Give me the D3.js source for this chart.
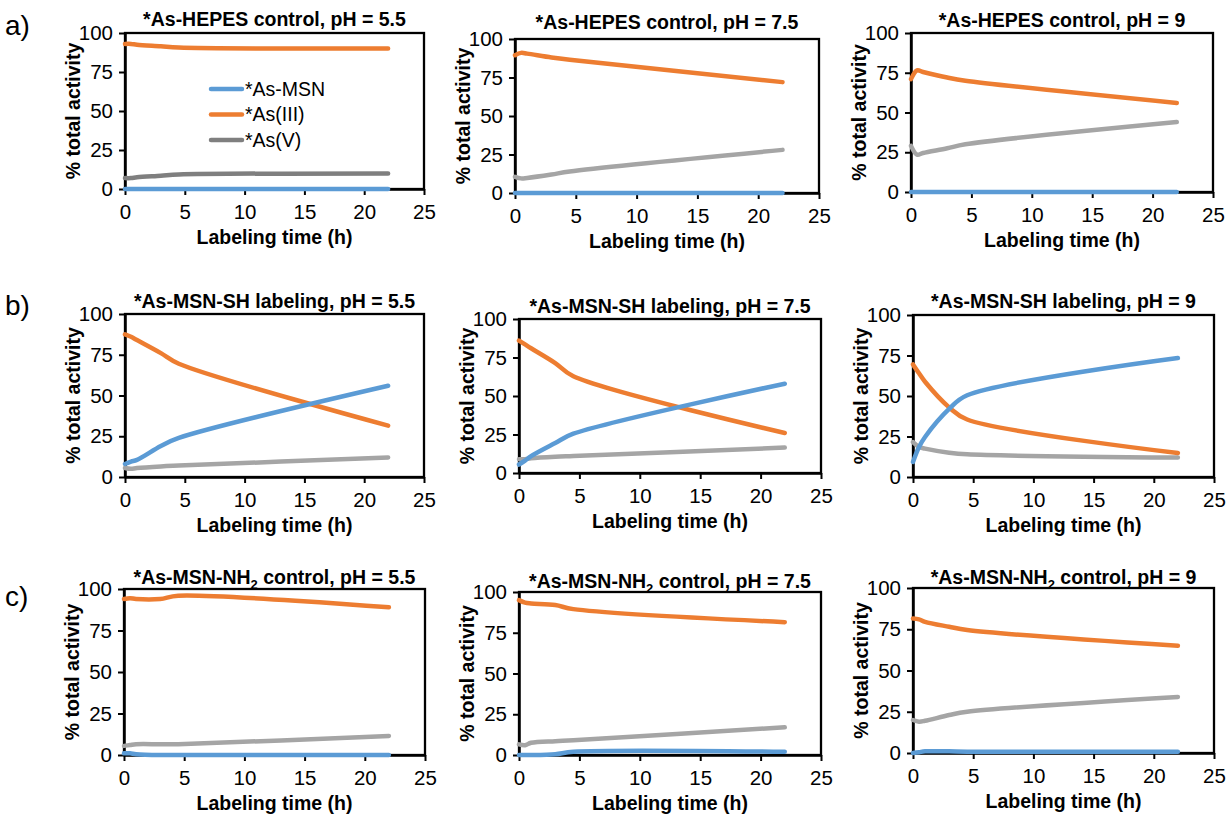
<!DOCTYPE html>
<html>
<head>
<meta charset="utf-8">
<script src="https://cdn.jsdelivr.net/npm/d3@7"></script>
<style>
  body { margin: 0; background: #fff; }
  svg text { font-family: "Liberation Sans", Arial, sans-serif; fill: #000; }
</style>
</head>
<body>
<div id="chart"></div>
<script>
const W = 1228, H = 814;

// sampling times (h)
const times = [0, 0.5, 1, 3, 4.5, 22];

const titles = [
  "*As-HEPES control, pH = 5.5", "*As-HEPES control, pH = 7.5", "*As-HEPES control, pH = 9",
  "*As-MSN-SH labeling, pH = 5.5", "*As-MSN-SH labeling, pH = 7.5", "*As-MSN-SH labeling, pH = 9",
  "*As-MSN-NH2 control, pH = 5.5", "*As-MSN-NH2 control, pH = 7.5", "*As-MSN-NH2 control, pH = 9"
];
const rowLabels = ["a)", "b)", "c)"];
const seriesNames = ["*As-MSN", "*As(III)", "*As(V)"];
const xTicks = [0, 5, 10, 15, 20, 25];
const yTicks = [0, 25, 50, 75, 100];

// % total activity, one row per panel
const asMSN = [
  [0, 0, 0, 0, 0, 0],
  [0, 0, 0, 0, 0, 0],
  [0, 0, 0, 0, 0, 0],
  [8, 9.5, 10.5, 19, 24, 56],
  [5.5, 8, 11, 19.5, 25.5, 58],
  [9.3, 18.5, 24.7, 42, 50.5, 73.5],
  [1, 1, 0.5, 0, 0, 0],
  [0, 0, 0, 0.5, 2, 2],
  [0, 0.5, 1, 1, 0.8, 0.8]
];
const asIII = [
  [93, 93, 92.5, 91.5, 90.7, 90],
  [89.5, 91, 90.5, 88, 86.5, 72],
  [71, 76.5, 75.5, 72, 70, 56],
  [87.5, 86, 84, 76, 69.5, 31.5],
  [86, 83.5, 81, 71.4, 62.8, 26],
  [69.5, 64, 58.8, 43, 35.5, 14.8],
  [94, 94.5, 94, 94, 96, 89],
  [95, 93.5, 93, 92, 89.5, 81.5],
  [81.5, 81, 79.5, 76.5, 74.5, 65]
];
const asV = [
  [7, 7, 7.5, 8.5, 9.3, 10],
  [10.5, 9.5, 9.8, 12, 14, 28],
  [29, 23.5, 24.5, 27.5, 30, 44],
  [5.5, 5, 5.5, 6.5, 7, 12],
  [9, 9, 9.5, 10.5, 11, 16.5],
  [21.5, 18.5, 17.5, 15, 14, 12],
  [5.5, 6, 6.5, 6.5, 6.5, 11.5],
  [6.5, 6, 7.5, 8.5, 9, 17],
  [20, 19, 19.5, 23, 25, 34]
];

// plot boxes [left, right, top, bottom] and title baselines
const boxes = [
  [125, 424, 33, 189], [515, 819, 39, 193], [911, 1213, 33, 192],
  [125, 424, 314, 477], [519, 821, 319, 473], [913, 1214, 315, 477],
  [124, 425, 589, 755], [519, 821, 592, 755], [913, 1214, 588, 753]
];
const titleY = [26, 29, 27, 308, 313, 308, 584, 588, 584];
const labelY = [35, 315, 606];

const colors = ["#5B9BD5", "#ED7D31", "#A5A5A5"];
const fs = 19.5;

const svg = d3.select("#chart").append("svg")
  .attr("width", W).attr("height", H);

rowLabels.forEach((t, i) => {
  svg.append("text").attr("x", 5).attr("y", labelY[i])
    .style("font-size", "28px").text(t);
});

titles.forEach((title, p) => {
  const [l, r, t, b] = boxes[p];
  const x = d3.scaleLinear().domain([0, 25]).range([l, r]);
  const y = d3.scaleLinear().domain([0, 100]).range([b, t]);
  const g = svg.append("g");

  // plot border
  g.append("rect").attr("x", l).attr("y", t)
    .attr("width", r - l).attr("height", b - t)
    .attr("fill", "none").attr("stroke", "#000").attr("stroke-width", 2.3);

  const xa = g.append("g").attr("transform", `translate(0,${b})`)
    .call(d3.axisBottom(x).tickValues(xTicks).tickSize(6).tickSizeOuter(0).tickPadding(9));
  const ya = g.append("g").attr("transform", `translate(${l},0)`)
    .call(d3.axisLeft(y).tickValues(yTicks).tickSize(6).tickSizeOuter(0).tickPadding(6));
  [xa, ya].forEach(a => {
    a.select(".domain").attr("stroke", "#000").attr("stroke-width", 2.5);
    a.selectAll(".tick line").attr("stroke", "#000").attr("stroke-width", 2);
    a.selectAll(".tick text").style("font-size", "20.5px")
      .style("font-family", '"Liberation Sans", Arial, sans-serif').attr("fill", "#000");
  });

  // title, with subscript for NH2
  const tt = g.append("text").attr("x", (l + r) / 2).attr("y", titleY[p])
    .attr("text-anchor", "middle").style("font-size", fs + "px").style("font-weight", "bold");
  const m = title.split("NH2");
  if (m.length > 1) {
    tt.append("tspan").text(m[0] + "NH");
    tt.append("tspan").attr("dy", 5).style("font-size", "13px").text("2");
    tt.append("tspan").attr("dy", -5).text(m[1]);
  } else {
    tt.text(title);
  }

  g.append("text").attr("x", (l + r) / 2).attr("y", b + 55)
    .attr("text-anchor", "middle").style("font-size", fs + "px").style("font-weight", "bold")
    .text("Labeling time (h)");
  g.append("text")
    .attr("transform", `translate(${l - 52},${(t + b) / 2}) rotate(-90)`)
    .attr("dy", "0.35em").attr("text-anchor", "middle")
    .style("font-size", fs + "px").style("font-weight", "bold")
    .text("% total activity");

  const line = d3.line()
    .x((d, i) => x(times[i]))
    .y(d => y(d))
    .curve(d3.curveCatmullRom.alpha(0.5));

  const series = [asMSN[p], asIII[p], asV[p]];
  // gray and orange first, blue on top
  [2, 1, 0].forEach(k => {
    const c = (p === 0 && k === 2) ? "#7F7F7F" : colors[k];
    g.append("path").datum(series[k])
      .attr("d", line).attr("fill", "none")
      .attr("stroke", c).attr("stroke-width", 4.5)
      .attr("stroke-linecap", "round").attr("stroke-linejoin", "round");
  });

  if (p === 0) {
    seriesNames.forEach((n, k) => {
      const ly = 89 + k * 25.5;
      g.append("line").attr("x1", 211).attr("x2", 242).attr("y1", ly).attr("y2", ly)
        .attr("stroke", k === 2 ? "#7F7F7F" : colors[k]).attr("stroke-width", 4.5)
        .attr("stroke-linecap", "round");
      g.append("text").attr("x", 245).attr("y", ly).attr("dy", "0.35em")
        .style("font-size", fs + "px").text(n);
    });
  }
});
</script>
</body>
</html>
